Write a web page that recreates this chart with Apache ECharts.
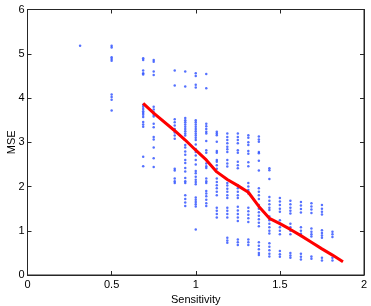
<!DOCTYPE html>
<html><head><meta charset="utf-8">
<script src="https://cdn.jsdelivr.net/npm/echarts@6/dist/echarts.min.js"></script>
<style>html,body{margin:0;padding:0;background:#fff}#c{width:371px;height:306px}</style>
</head><body><div id="c"></div>
<script>
// Column x positions (Sensitivity)
const colX = [0.3125, 0.5, 0.6875, 0.75, 0.875, 0.9375, 1.0, 1.0625, 1.125, 1.1875, 1.25, 1.3125, 1.375, 1.4375, 1.5, 1.5625, 1.625, 1.6875, 1.75, 1.8125];
// MSE values of the dots in each column
const col0 = [5.18];
const col1 = [5.18, 5.14, 4.92, 4.88, 4.84, 4.08, 4.02, 3.96, 3.72];
const col2 = [4.9, 4.86, 4.62, 4.56, 4.53, 3.85, 3.8, 3.75, 3.7, 3.66, 3.62, 3.57, 3.46, 3.4, 3.35, 2.67, 2.46];
const col3 = [4.86, 4.82, 4.6, 4.52, 3.8, 3.74, 3.68, 3.62, 3.58, 3.42, 3.34, 3.12, 3.06, 2.88, 2.64, 2.44];
const col4 = [4.62, 4.28, 3.52, 3.45, 3.38, 3.3, 3.22, 3.15, 3.08, 2.4, 2.36, 2.18, 2.12, 2.08];
const col5 = [4.6, 4.26, 3.55, 3.5, 3.45, 3.4, 3.35, 3.3, 3.25, 3.2, 3.15, 2.94, 2.88, 2.79, 2.72, 2.6, 2.53, 2.42, 2.34, 2.19, 2.12, 2.08, 1.8, 1.72, 1.64, 1.56];
const col6 = [4.56, 4.5, 4.3, 4.24, 3.5, 3.45, 3.4, 3.35, 3.3, 3.25, 3.2, 3.15, 3.1, 3.05, 2.95, 2.85, 2.78, 2.7, 2.6, 2.5, 2.35, 2.3, 2.22, 2.15, 2.1, 2.05, 1.75, 1.7, 1.65, 1.6, 1.55, 1.03];
const col7 = [4.54, 4.22, 3.42, 3.36, 3.3, 3.24, 3.2, 3.03, 2.82, 2.76, 2.6, 2.52, 2.46, 2.42, 2.18, 2.12, 2.08, 1.9, 1.84, 1.78, 1.7, 1.62, 1.56];
const col8 = [3.24, 3.2, 3.16, 3.01, 2.8, 2.76, 2.6, 2.56, 2.48, 2.4, 2.18, 2.1, 2.03, 1.96, 1.88, 1.8, 1.52, 1.45, 1.38, 1.3];
const col9 = [3.2, 3.12, 3.05, 2.98, 2.9, 2.84, 2.78, 2.6, 2.52, 2.45, 2.08, 2.02, 1.95, 1.88, 1.8, 1.74, 1.52, 1.45, 1.38, 1.3, 0.84, 0.78, 0.73];
const col10 = [3.2, 3.12, 3.05, 2.98, 2.82, 2.76, 2.56, 2.48, 2.41, 2.03, 1.96, 1.88, 1.8, 1.74, 1.54, 1.46, 1.38, 1.3, 1.22, 0.8, 0.74, 0.68];
const col11 = [3.16, 3.1, 3.0, 2.94, 2.8, 2.74, 2.55, 2.46, 2.08, 2.0, 1.92, 1.84, 1.52, 1.44, 1.36, 1.28, 1.2, 0.8, 0.74, 0.68];
const col12 = [3.13, 3.06, 3.01, 2.78, 2.75, 2.58, 2.36, 1.96, 1.88, 1.8, 1.72, 1.58, 1.5, 1.42, 1.34, 1.26, 1.18, 1.1, 0.74, 0.66, 0.58, 0.5, 0.45];
const col13 = [2.41, 2.37, 2.17, 1.76, 1.68, 1.6, 1.52, 1.47, 1.32, 1.24, 1.16, 1.08, 1.0, 0.94, 0.72, 0.64, 0.56, 0.48, 0.42];
const col14 = [1.74, 1.66, 1.58, 1.5, 1.43, 1.24, 1.16, 1.08, 1.0, 0.92, 0.54, 0.47, 0.41];
const col15 = [1.68, 1.6, 1.52, 1.45, 1.39, 1.16, 1.08, 1.0, 0.92, 0.5, 0.44, 0.39];
const col16 = [1.65, 1.57, 1.49, 1.41, 1.08, 1.0, 0.93, 0.88, 0.48, 0.41, 0.35];
const col17 = [1.62, 1.55, 1.48, 1.4, 1.05, 0.98, 0.92, 0.87, 0.42, 0.37];
const col18 = [1.58, 1.5, 1.43, 1.37, 1.01, 0.95, 0.89, 0.84, 0.39, 0.33];
const col19 = [0.98, 0.92, 0.86, 0.39, 0.33];
const columns = [col0, col1, col2, col3, col4, col5, col6, col7, col8, col9, col10, col11, col12, col13, col14, col15, col16, col17, col18, col19];
// Red trend line
const lineX = [0.6875, 0.75, 0.875, 0.9375, 1.0, 1.0625, 1.125, 1.1875, 1.25, 1.3125, 1.375, 1.4375, 1.5, 1.5625, 1.625, 1.6875, 1.75, 1.8125, 1.875];
const lineY = [3.88, 3.66, 3.26, 3.05, 2.82, 2.6, 2.33, 2.16, 2.02, 1.87, 1.55, 1.28, 1.16, 1.03, 0.89, 0.74, 0.59, 0.45, 0.3];
const xTicks = [0, 0.5, 1, 1.5, 2];
const yTicks = [0, 1, 2, 3, 4, 5, 6];

const dots = [];
columns.forEach((c, i) => c.forEach(v => dots.push([colX[i], v])));
const line = lineX.map((x, i) => [x, lineY[i]]);

const font = 'Liberation Sans, Arial, sans-serif';
const axisLine = {show: true, onZero: false, lineStyle: {color: '#262626', width: 1}};
const tick = {show: true, inside: true, length: 4, lineStyle: {color: '#262626'}};
const chart = echarts.init(document.getElementById('c'));
chart.setOption({
  animation: false,
  grid: {left: 27.5, right: 7, top: 9.5, bottom: 31, outerBoundsMode: 'none', containLabel: false,
         show: true, borderColor: '#262626', borderWidth: 1, backgroundColor: 'transparent'},
  xAxis: [
    {type: 'value', min: 0, max: 2, interval: 0.5, name: 'Sensitivity', nameLocation: 'middle', nameGap: 17,
     nameTextStyle: {color: '#000', fontSize: 11, fontFamily: font},
     axisLine, axisTick: tick, splitLine: {show: false},
     axisLabel: {color: '#000', fontSize: 11, fontFamily: font, margin: 4, formatter: v => xTicks.includes(v) ? String(v) : ''}},
    {type: 'value', position: 'top', min: 0, max: 2, interval: 0.5, axisLine, axisTick: tick, axisLabel: {show: false}, splitLine: {show: false}}
  ],
  yAxis: [
    {type: 'value', min: 0, max: 6, interval: 1, name: 'MSE', nameLocation: 'middle', nameGap: 10, nameMoveOverlap: false,
     nameTextStyle: {color: '#000', fontSize: 11, fontFamily: font},
     axisLine, axisTick: tick, splitLine: {show: false},
     axisLabel: {color: '#000', fontSize: 11, fontFamily: font, margin: 3, formatter: v => yTicks.includes(v) ? String(v) : ''}},
    {type: 'value', position: 'right', min: 0, max: 6, interval: 1, axisLine, axisTick: tick, axisLabel: {show: false}, splitLine: {show: false}}
  ],
  series: [
    {type: 'scatter', data: dots, symbol: 'circle', symbolSize: 2.5, itemStyle: {color: '#2a4dff'}, silent: true},
    {type: 'line', data: line, symbol: 'none', lineStyle: {color: '#ff0000', width: 3}, silent: true}
  ]
});
</script></body></html>
